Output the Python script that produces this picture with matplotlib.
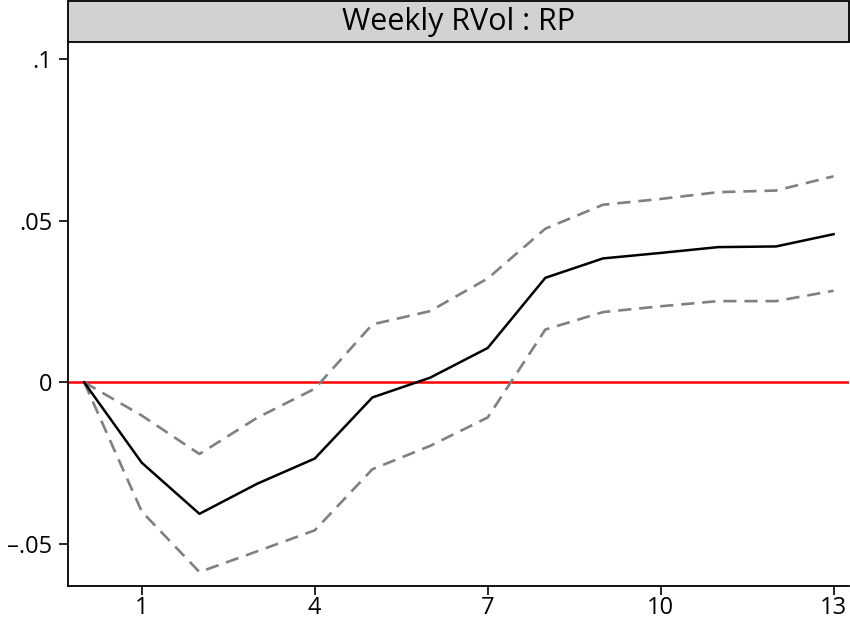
import matplotlib
matplotlib.use("Agg")
import matplotlib.pyplot as plt
from matplotlib.patches import Rectangle

# impulse response, weekly RVol -> RP
step = [0, 1, 2, 3, 4, 5, 6, 7, 8, 9, 10, 11, 12, 13]
irf = [0, -0.0249, -0.0407, -0.0314, -0.0236, -0.0047, 0.0014,
       0.0106, 0.0323, 0.0383, 0.0400, 0.0418, 0.0420, 0.0458]
upper = [0, -0.0103, -0.0222, -0.0110, -0.0020, 0.0179, 0.0220,
         0.0321, 0.0475, 0.0549, 0.0567, 0.0588, 0.0593, 0.0637]
lower = [0, -0.0400, -0.0587, -0.0523, -0.0458, -0.0269, -0.0197,
         -0.0109, 0.0163, 0.0217, 0.0235, 0.0251, 0.0251, 0.0283]

xticks = [1, 4, 7, 10, 13]
yticks = [-0.05, 0, 0.05, 0.1]
ylabels = ["\u2013.05", "0", ".05", ".1"]
title = "Weekly RVol : RP"

plt.rcParams['font.family'] = ['Open Sans', 'DejaVu Sans']

fig = plt.figure(figsize=(8.5, 6.24), dpi=100)
ax = fig.add_axes([0.080, 0.061, 0.919, 0.872])

ax.axhline(0, color='red', lw=1.8, zorder=1)
ax.plot(step, upper, color='#808080', lw=1.9, dashes=(5.0, 3.0), zorder=2)
ax.plot(step, lower, color='#808080', lw=1.9, dashes=(5.0, 3.0), zorder=2)
ax.plot(step, irf, color='black', lw=1.8, zorder=3)

ax.set_xlim(-0.28, 13.27)
ax.set_ylim(-0.063, 0.1053)
ax.set_xticks(xticks)
ax.set_xticklabels([str(t) for t in xticks])
ax.set_yticks(yticks)
ax.set_yticklabels(ylabels)

for s in ['top', 'right']:
    ax.spines[s].set_visible(False)
for s in ['left', 'bottom']:
    ax.spines[s].set_linewidth(1.3)
ax.tick_params(axis='both', direction='out', length=6.5, width=1.2,
               labelsize=17)
ax.tick_params(axis='x', pad=1)
ax.tick_params(axis='y', pad=5)

# gray title bar on top of the plot area
fig.patches.append(Rectangle((0.080, 0.9327), 0.919, 0.0657,
                             transform=fig.transFigure, facecolor='#d2d2d2',
                             edgecolor='black', lw=1.3))
fig.text(0.5395, 0.9645, title, ha='center', va='center', fontsize=22)

fig.savefig('out.png', dpi=100)
